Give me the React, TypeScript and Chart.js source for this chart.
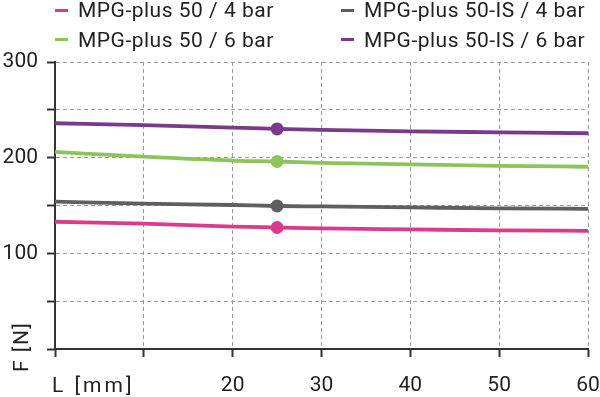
import React, { useEffect, useRef } from 'react';
import { Chart, registerables } from 'chart.js';

Chart.register(...registerables);

// ---- data ----
const xValues = [0, 10, 20, 25, 30, 40, 50, 60];
const pink4 = [133, 131, 128, 127, 126, 125, 124, 123.5];
const gray4 = [154, 152, 150.5, 149.5, 149, 148, 147, 146.5];
const green6 = [206, 201, 197, 196, 194.5, 193, 191.5, 190.5];
const purple6 = [236, 234, 231.5, 230, 229, 227.5, 226.5, 225.5];
const seriesLabels = [
  'MPG-plus 50 / 4 bar',
  'MPG-plus 50-IS / 4 bar',
  'MPG-plus 50 / 6 bar',
  'MPG-plus 50-IS / 6 bar',
];
const markerX = 25;
const yTickLabels = [100, 200, 300];
const xTickLabels = [20, 30, 40, 50, 60];
const xTitle = 'L [mm]';
const yTitle = 'F [N]';

const PINK = '#dc3a8a';
const GRAY = '#5f5f5f';
const GREEN = '#8cc35a';
const PURPLE = '#7a3a8a';
const TEXT = '#222222';
const FONT = 'Roboto';

const seriesValues = [pink4, gray4, green6, purple6];
const seriesColors = [PINK, GRAY, GREEN, PURPLE];

const axisTitles = {
  id: 'axisTitles',
  afterDraw(chart: any) {
    const { ctx, chartArea } = chart;
    ctx.save();
    ctx.fillStyle = TEXT;
    ctx.font = `21px ${FONT}`;
    ctx.textBaseline = 'alphabetic';
    ctx.textAlign = 'left';
    (ctx as any).letterSpacing = '3px';
    ctx.fillText(xTitle, chartArea.left - 3, chartArea.bottom + 43);
    (ctx as any).letterSpacing = '1.5px';
    ctx.translate(chartArea.left - 27, chartArea.bottom + 23);
    ctx.rotate(-Math.PI / 2);
    ctx.fillText(yTitle, 0, 0);
    ctx.restore();
  },
};

function ChartCanvas() {
  const ref = useRef<HTMLCanvasElement>(null);
  useEffect(() => {
    if (!ref.current) return;
    const datasets = seriesValues.map((vals, i) => ({
      label: seriesLabels[i],
      data: xValues.map((x, j) => ({ x, y: vals[j] })),
      borderColor: seriesColors[i],
      backgroundColor: seriesColors[i],
      borderWidth: 3.8,
      pointRadius: xValues.map((x) => (x === markerX ? 6.5 : 0)),
      pointHoverRadius: 0,
      pointBorderWidth: 0,
      cubicInterpolationMode: 'monotone' as const,
      fill: false,
    }));
    const chart = new Chart(ref.current, {
      type: 'line',
      data: { datasets },
      options: {
        responsive: false,
        animation: false,
        layout: { padding: { top: 62, right: 0, left: 0, bottom: 0 } },
        plugins: {
          legend: { display: false },
          tooltip: { enabled: false },
        },
        scales: {
          x: {
            type: 'linear',
            min: 0,
            max: 60,
            afterFit: (scale: any) => {
              scale.height = 48;
              scale.paddingRight = 12;
              scale.paddingLeft = 0;
            },
            ticks: {
              stepSize: 10,
              padding: 16.5,
              color: TEXT,
              font: { family: FONT, size: 21 },
              callback: (v: any) => (xTickLabels.includes(Number(v)) ? String(v) : ''),
            },
            grid: {
              color: '#9a9a9a',
              lineWidth: 1,
              tickLength: 8,
              tickColor: '#333333',
              tickWidth: 2,
              tickBorderDash: [],
            },
            border: { color: '#333333', width: 2, dash: [4, 3] },
          },
          y: {
            type: 'linear',
            min: 0,
            max: 300,
            afterFit: (scale: any) => {
              scale.width = 55;
            },
            ticks: {
              stepSize: 50,
              padding: 9,
              color: TEXT,
              font: { family: FONT, size: 21 },
              callback: (v: any) => (yTickLabels.includes(Number(v)) ? String(v) : ''),
            },
            grid: {
              color: '#9a9a9a',
              lineWidth: 1,
              tickLength: 8,
              tickColor: '#333333',
              tickWidth: 2,
              tickBorderDash: [],
            },
            border: { color: '#333333', width: 2, dash: [4, 3] },
          },
        },
      },
      plugins: [axisTitles],
    });
    return () => chart.destroy();
  }, []);
  return <canvas ref={ref} width={600} height={397} style={{ position: 'absolute', left: 0, top: 0 }} />;
}

function Legend() {
  const cols = [55, 341];
  const rows = [10, 39.5];
  return (
    <>
      {seriesLabels.map((label, i) => {
        const col = i % 2;
        const row = Math.floor(i / 2);
        return (
          <div
            key={label}
            style={{
              position: 'absolute',
              left: cols[col],
              top: rows[row] - 10,
              height: 20,
              display: 'flex',
              alignItems: 'center',
              fontFamily: FONT,
              fontSize: 21,
              lineHeight: '20px',
              letterSpacing: '0.5px',
              color: TEXT,
              whiteSpace: 'nowrap',
            }}
          >
            <span style={{ display: 'inline-block', width: 13, height: 3, background: seriesColors[i], marginRight: 10 }} />
            <span>{label}</span>
          </div>
        );
      })}
    </>
  );
}

export default function App() {
  return (
    <div style={{ position: 'fixed', left: 0, top: 0, width: 600, height: 397, background: '#ffffff', overflow: 'hidden' }}>
      <ChartCanvas />
      <Legend />
    </div>
  );
}
